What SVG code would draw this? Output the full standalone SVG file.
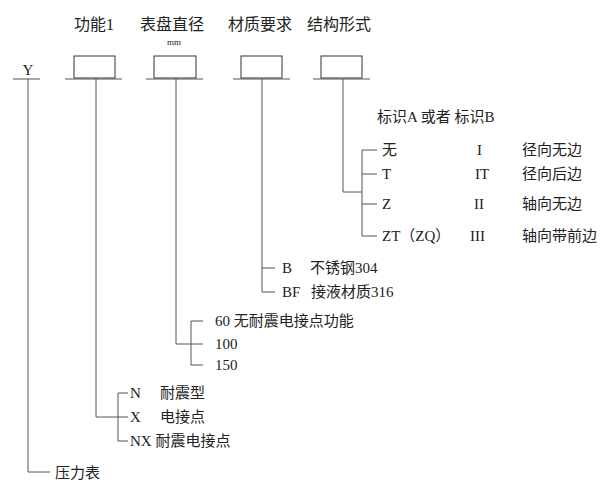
<svg xmlns="http://www.w3.org/2000/svg" width="612" height="485" viewBox="0 0 612 485">
<style>
text{font-family:"Liberation Serif","Noto Sans CJK SC",serif;font-size:15px;fill:#222}
.h{font-size:16px}
.c line,.c path{stroke:#555;stroke-width:1;fill:none}
.box{fill:#fff;stroke:#333;stroke-width:1}
</style>
<rect width="612" height="485" fill="#fff"/>
<g id="headers">
<text class="h" x="74" y="30">功能1</text>
<text class="h" x="140" y="30">表盘直径</text>
<text x="167" y="45" style="font-size:9px">mm</text>
<text class="h" x="228" y="30">材质要求</text>
<text class="h" x="307" y="30">结构形式</text>
</g>
<g id="Y"><text x="28" y="75" text-anchor="middle">Y</text></g>
<g id="box1"><rect class="box" x="74" y="56" width="41" height="22"/></g>
<g id="box2"><rect class="box" x="154" y="56" width="42" height="22"/></g>
<g id="box3"><rect class="box" x="241" y="56" width="41" height="22"/></g>
<g id="box4"><rect class="box" x="321" y="56" width="41" height="22"/></g>
<g class="c" id="connectors">
<line x1="13" y1="79" x2="40" y2="79"/><line x1="65" y1="79" x2="122" y2="79"/>
<line x1="146" y1="79" x2="203" y2="79"/><line x1="233" y1="79" x2="290" y2="79"/>
<line x1="313" y1="79" x2="370" y2="79"/>
<path d="M28 79V472H50"/>
<path d="M96 79V417H118M118 393V441M118 393H128M118 417H128M118 441H128"/>
<path d="M176 79V344H191M191 321V365M191 321H203M191 344H203M191 365H203"/>
<path d="M262 79V292H275M262 268H275"/>
<path d="M343 79V192H362M362 150V236M362 150H377M362 174H377M362 204H377M362 236H377"/>
</g>
<g id="struct">
<text x="377" y="122">标识A 或者 标识B</text>
<text x="382" y="155">无</text><text x="477" y="155">I</text><text x="522" y="155">径向无边</text>
<text x="382" y="179">T</text><text x="475" y="179">IT</text><text x="522" y="179">径向后边</text>
<text x="382" y="209">Z</text><text x="474" y="209">II</text><text x="522" y="209">轴向无边</text>
<text x="382" y="241">ZT（ZQ）</text><text x="470" y="241">III</text><text x="522" y="241">轴向带前边</text>
</g>
<g id="material">
<text x="282" y="273">B</text><text x="310" y="273">不锈钢304</text>
<text x="282" y="297">BF</text><text x="311" y="297">接液材质316</text>
</g>
<g id="diameter">
<text x="215" y="326">60 无耐震电接点功能</text>
<text x="215" y="349">100</text>
<text x="215" y="370">150</text>
</g>
<g id="function">
<text x="130" y="398">N</text><text x="160" y="398">耐震型</text>
<text x="130" y="422">X</text><text x="160" y="422">电接点</text>
<text x="130" y="446">NX 耐震电接点</text>
</g>
<g id="gauge"><text x="55" y="478">压力表</text></g>
</svg>
